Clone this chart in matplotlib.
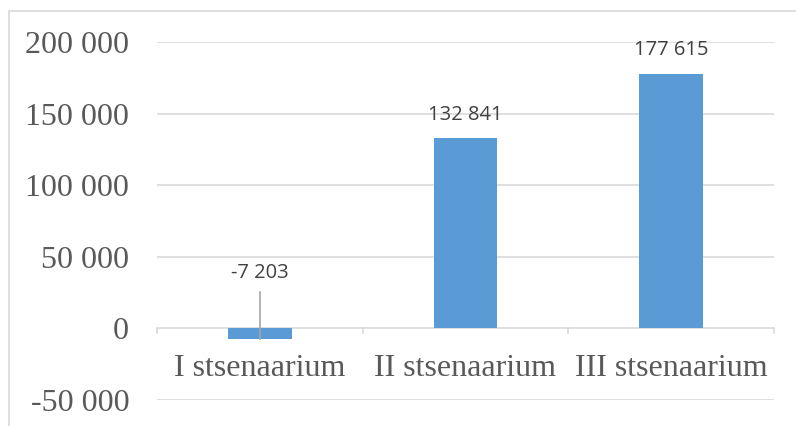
import matplotlib
matplotlib.use("Agg")
import matplotlib.pyplot as plt
from matplotlib.patches import Rectangle

categories = ["I stsenaarium", "II stsenaarium", "III stsenaarium"]
values = [-7203, 132841, 177615]
y_ticks = [-50000, 0, 50000, 100000, 150000, 200000]

BAR = "#5B9BD5"
GRID = "#D9D9D9"
TEXT = "#595959"
LABEL = "#404040"
SERIF = ["Liberation Serif", "DejaVu Serif"]
SANS = ["Open Sans", "DejaVu Sans"]


def fmt(v):
    return f"{v:,.0f}".replace(",", " ")


W, H = 796, 426
fig = plt.figure(figsize=(W / 100, H / 100), dpi=100, facecolor="white")

# chart border (cropped on right/bottom)
fig.patches.append(Rectangle((9 / W, -0.1), 1.2, 1 - 11 / H + 0.1,
                             transform=fig.transFigure, fill=False,
                             edgecolor=GRID, lw=1.2))

ax = fig.add_axes([157 / W, 1 - 400 / H, (774 - 157) / W, (400 - 42) / H])
ax.set_xlim(-0.5, len(categories) - 0.5)
ax.set_ylim(y_ticks[0], y_ticks[-1])

for y in y_ticks:
    ax.axhline(y, color=GRID, lw=1.2, zorder=0)

x = list(range(len(categories)))
ax.bar(x, values, width=0.31, color=BAR, zorder=2)

# category tick marks on zero line
for xt in [-0.5, 0.5, 1.5, 2.5]:
    ax.plot([xt, xt], [0, -3500], color=GRID, lw=1.2, zorder=1, clip_on=False)

for sp in ax.spines.values():
    sp.set_visible(False)
ax.set_xticks([])
ax.set_yticks(y_ticks)
ax.set_yticklabels([fmt(v) for v in y_ticks], family=SERIF, fontsize=23, color=TEXT)
ax.tick_params(axis="y", length=0, pad=20)

for xi, cat in zip(x, categories):
    ax.text(xi, -28000, cat, ha="center", va="center", family=SERIF,
            fontsize=23, color=TEXT)

for xi, v in zip(x, values):
    if v >= 0:
        ax.text(xi, v + 16500, fmt(v), ha="center", va="center", family=SANS,
                fontsize=14.5, color=LABEL)
    else:
        ax.text(xi, 38500, fmt(v), ha="center", va="center", family=SANS,
                fontsize=14.5, color=LABEL)
        ax.plot([xi, xi], [25500, v], color="#A6A6A6", lw=1.2, zorder=3)

fig.savefig("out.png", dpi=100, facecolor="white")
